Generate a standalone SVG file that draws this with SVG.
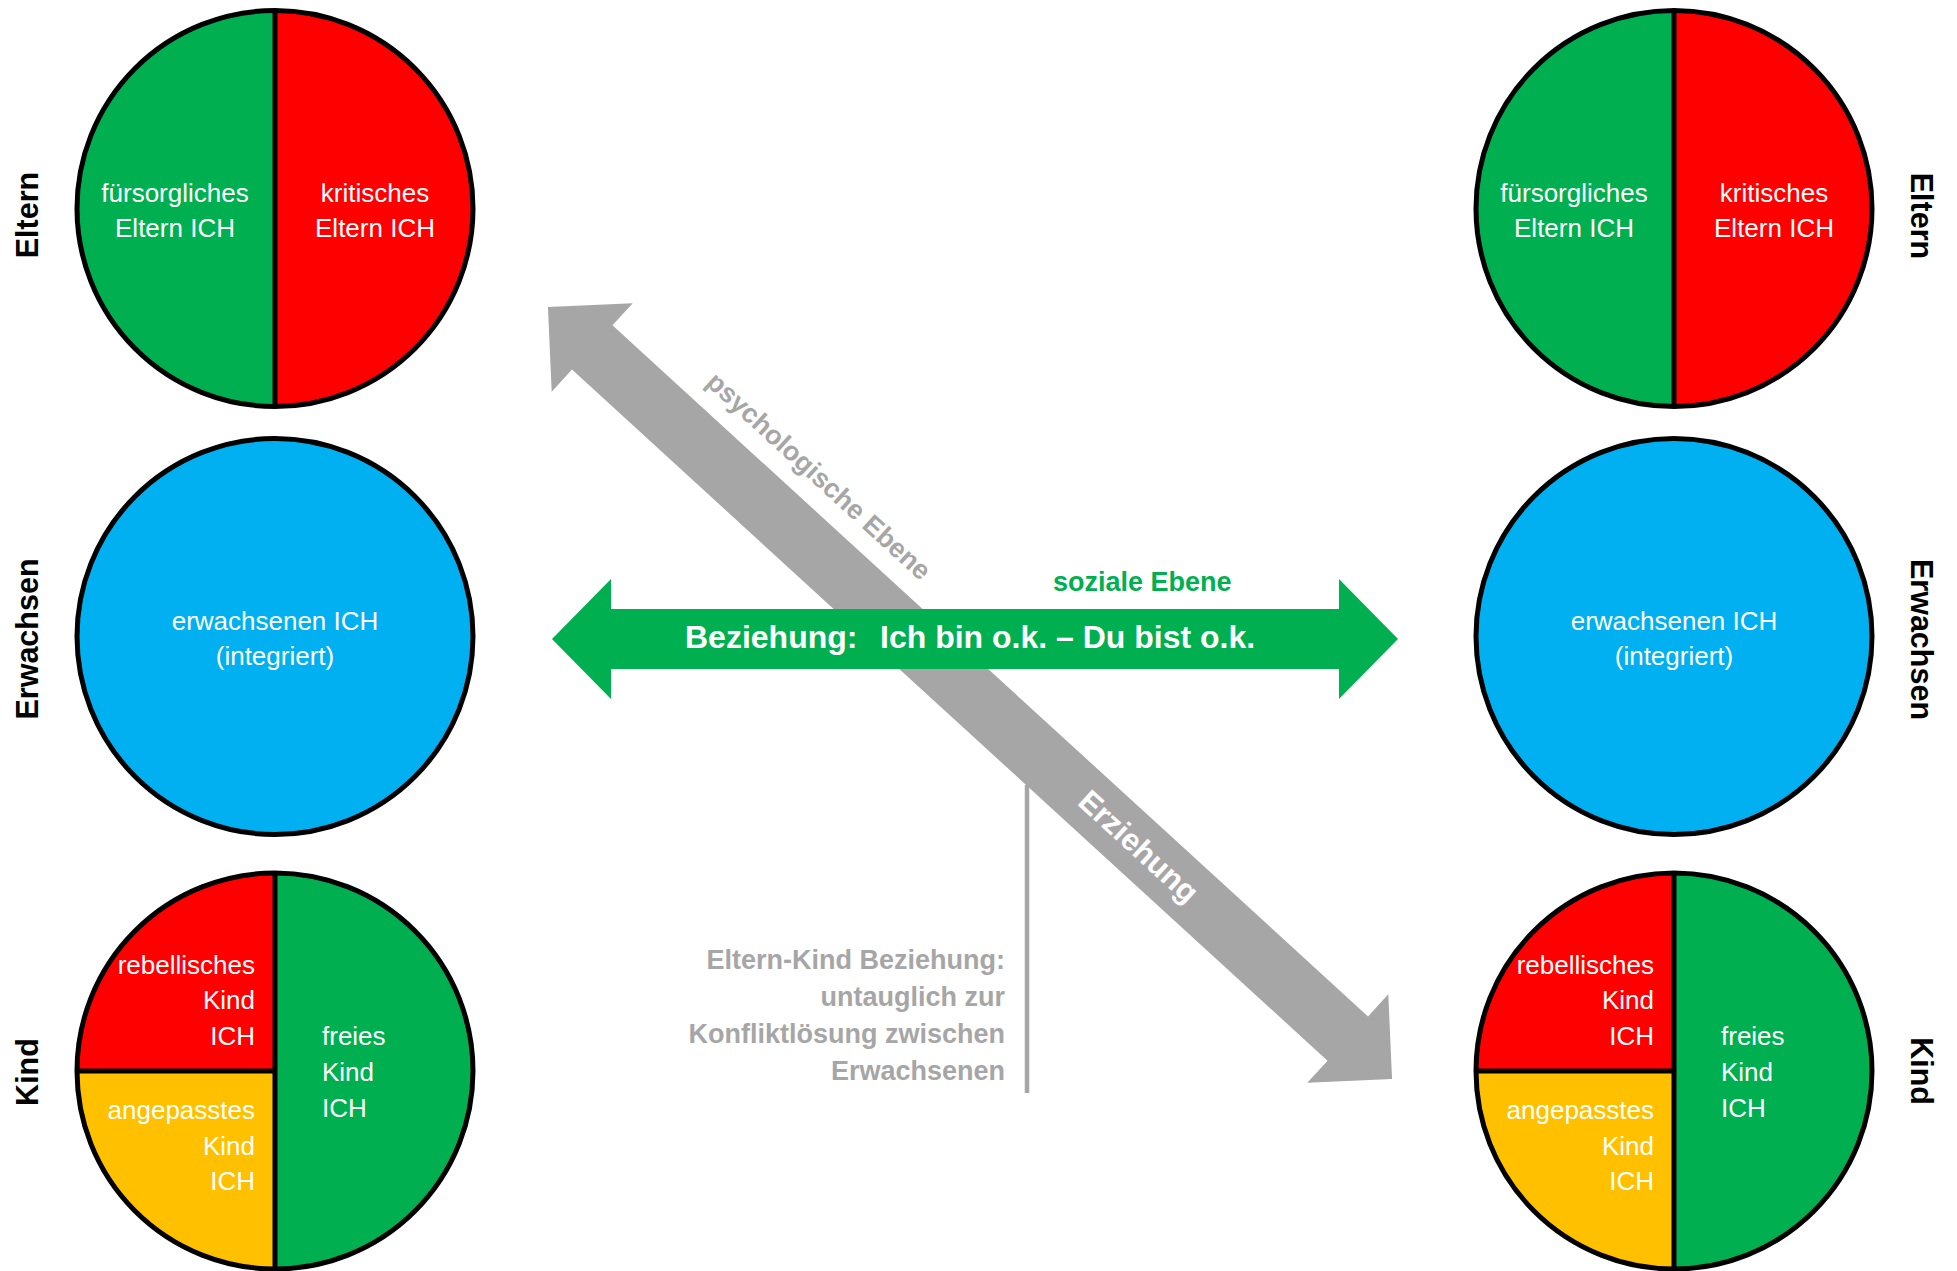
<svg xmlns="http://www.w3.org/2000/svg" width="1957" height="1271" viewBox="0 0 1957 1271">
<style>
.ring{fill:none;stroke:#000;stroke-width:5}
.div{stroke:#000;stroke-width:5}
.g{fill:#00B050}
.r{fill:#FF0000}
.y{fill:#FFC000}
.b{fill:#00B0F0}
.t{font-family:"Liberation Sans",Arial,sans-serif;font-size:26px;fill:#fff}
.lab{font-family:"Liberation Sans",Arial,sans-serif;font-size:30.5px;font-weight:bold;fill:#000;text-anchor:middle}
.gt{font-family:"Liberation Sans",Arial,sans-serif;font-size:27px;font-weight:bold;fill:#A6A6A6}
.wt{font-family:"Liberation Sans",Arial,sans-serif;font-weight:bold;fill:#fff}
.mid{text-anchor:middle}
.end{text-anchor:end}
</style>
<defs>
<g id="elternShape">
<path class="g" d="M275,10.5 A198,198 0 0,0 275,406.5 Z"/>
<path class="r" d="M275,10.5 A198,198 0 0,1 275,406.5 Z"/>
<line class="div" x1="275" y1="10.5" x2="275" y2="406.5"/>
<circle class="ring" cx="275" cy="208.5" r="198"/>
<text class="t mid" x="175" y="202">fürsorgliches</text>
<text class="t mid" x="175" y="237">Eltern ICH</text>
<text class="t mid" x="375" y="202">kritisches</text>
<text class="t mid" x="375" y="237">Eltern ICH</text>
</g>
<g id="erwShape">
<circle class="b" cx="275" cy="636.5" r="198"/>
<circle class="ring" cx="275" cy="636.5" r="198"/>
<text class="t mid" x="275" y="630">erwachsenen ICH</text>
<text class="t mid" x="275" y="665">(integriert)</text>
</g>
<g id="kindShape">
<path class="r" d="M275,1071 L77,1071 A198,198 0 0,1 275,873 Z"/>
<path class="y" d="M275,1071 L275,1269 A198,198 0 0,1 77,1071 Z"/>
<path class="g" d="M275,873 A198,198 0 0,1 275,1269 Z"/>
<line class="div" x1="275" y1="873" x2="275" y2="1269"/>
<line class="div" x1="77" y1="1071" x2="275" y2="1071"/>
<circle class="ring" cx="275" cy="1071" r="198"/>
<text class="t end" x="255" y="974">rebellisches</text>
<text class="t end" x="255" y="1009">Kind</text>
<text class="t end" x="255" y="1045">ICH</text>
<text class="t end" x="255" y="1119">angepasstes</text>
<text class="t end" x="255" y="1155">Kind</text>
<text class="t end" x="255" y="1190">ICH</text>
<text class="t" x="322" y="1045">freies</text>
<text class="t" x="322" y="1081">Kind</text>
<text class="t" x="322" y="1117">ICH</text>
</g>
</defs>

<g id="connectors">
<line x1="1027" y1="785" x2="1027" y2="1093" stroke="#A6A6A6" stroke-width="4.5"/>
<g transform="translate(970,693) rotate(42.45)">
<polygon fill="#A6A6A6" points="-572,0 -512,-60 -512,-30 512,-30 512,-60 572,0 512,60 512,30 -512,30 -512,60"/>
<text class="gt mid" x="-258" y="-49">psychologische Ebene</text>
<text class="wt mid" x="228" y="10" font-size="31">Erziehung</text>
</g>
<polygon class="g" points="552,639 611,579 611,609 1339,609 1339,579 1398,639 1339,699 1339,669 611,669 611,699"/>
<text class="wt" x="685" y="648" font-size="32">Beziehung:</text>
<text class="wt" x="880" y="648" font-size="32">Ich bin o.k. – Du bist o.k.</text>
<text x="1053" y="591" font-family="Liberation Sans,Arial,sans-serif" font-size="27" font-weight="bold" fill="#00B050">soziale Ebene</text>
<g id="note">
<text class="gt end" x="1005" y="969">Eltern-Kind Beziehung:</text>
<text class="gt end" x="1005" y="1006">untauglich zur</text>
<text class="gt end" x="1005" y="1043">Konfliktlösung zwischen</text>
<text class="gt end" x="1005" y="1080">Erwachsenen</text>
</g>
</g>

<g id="left-eltern"><use href="#elternShape"/></g>
<g id="left-erwachsen"><use href="#erwShape"/></g>
<g id="left-kind"><use href="#kindShape"/></g>
<g id="right-eltern" transform="translate(1399,0)"><use href="#elternShape"/></g>
<g id="right-erwachsen" transform="translate(1399,0)"><use href="#erwShape"/></g>
<g id="right-kind" transform="translate(1399,0)"><use href="#kindShape"/></g>

<g id="labels">
<text class="lab" transform="translate(38,215) rotate(-90)">Eltern</text>
<text class="lab" transform="translate(38,639) rotate(-90)">Erwachsen</text>
<text class="lab" transform="translate(38,1072) rotate(-90)">Kind</text>
<text class="lab" transform="translate(1911,216) rotate(90)">Eltern</text>
<text class="lab" transform="translate(1911,639.5) rotate(90)">Erwachsen</text>
<text class="lab" transform="translate(1911,1071) rotate(90)">Kind</text>
</g>
</svg>
